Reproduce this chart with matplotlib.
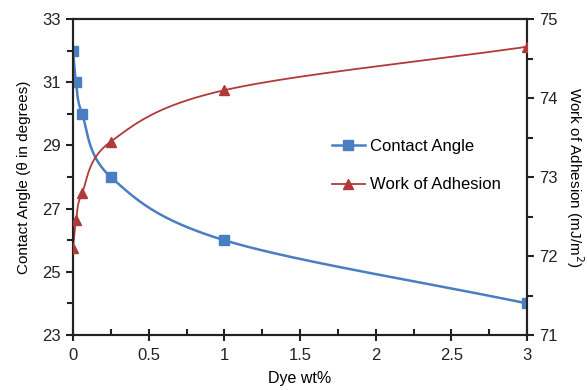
import numpy as np
import matplotlib
matplotlib.use("Agg")
import matplotlib.pyplot as plt
from matplotlib.ticker import MultipleLocator
from matplotlib.lines import Line2D

plt.rcParams['font.family'] = ['Liberation Sans', 'DejaVu Sans']

dye_wt = [0, 0.02, 0.06, 0.25, 1, 3]
contact_angle = [32, 31, 30, 28, 26, 24]
work_adhesion = [72.1, 72.45, 72.8, 73.45, 74.1, 74.65]
x_ticks = [0, 0.5, 1, 1.5, 2, 2.5, 3]
x_tick_labels = ['0', '0.5', '1', '1.5', '2', '2.5', '3']
left_ticks = [23, 25, 27, 29, 31, 33]
right_ticks = [71, 72, 73, 74, 75]

blue = '#4A7EC2'
red = '#B03A3A'


def smooth(x, y, n=60):
    # Catmull-Rom style smoothing for drawing the connecting line
    x = np.asarray(x, float); y = np.asarray(y, float)
    px = np.concatenate([[2*x[0]-x[1]], x, [2*x[-1]-x[-2]]])
    py = np.concatenate([[2*y[0]-y[1]], y, [2*y[-1]-y[-2]]])
    ox, oy = [], []
    for i in range(1, len(px)-2):
        t = np.linspace(0, 1, n)
        for arr, out in ((px, ox), (py, oy)):
            p0, p1, p2, p3 = arr[i-1], arr[i], arr[i+1], arr[i+2]
            m1 = 0.5*(p2-p0); m2 = 0.5*(p3-p1)
            h00 = 2*t**3-3*t**2+1; h10 = t**3-2*t**2+t
            h01 = -2*t**3+3*t**2; h11 = t**3-t**2
            out.extend(h00*p1+h10*m1+h01*p2+h11*m2)
    return np.array(ox), np.array(oy)


fig = plt.figure(figsize=(5.87, 3.9), dpi=100)
ax = fig.add_axes([0.1244, 0.141, 0.7734, 0.81])
ax2 = ax.twinx()

sx, sy = smooth(dye_wt, contact_angle)
ax.plot(sx, sy, color=blue, lw=1.8, zorder=2)
ax.plot(dye_wt, contact_angle, 's', color=blue, ms=7, zorder=3)
sx2, sy2 = smooth(dye_wt, work_adhesion)
ax2.plot(sx2, sy2, color=red, lw=1.3, zorder=2)
ax2.plot(dye_wt, work_adhesion, '^', color=red, ms=7, zorder=3)

ax.set_xlim(0, 3)
ax.set_ylim(23, 33)
ax2.set_ylim(71, 75)
ax.set_xticks(x_ticks)
ax.set_xticklabels(x_tick_labels)
ax.xaxis.set_minor_locator(MultipleLocator(0.25))
ax.set_yticks(left_ticks)
ax.yaxis.set_minor_locator(MultipleLocator(1))
ax2.set_yticks(right_ticks)
ax2.yaxis.set_minor_locator(MultipleLocator(0.5))

for a in (ax, ax2):
    a.tick_params(which='both', direction='out', labelsize=12, width=1.5, colors='#222222')
    a.tick_params(which='major', length=5)
    a.tick_params(which='minor', length=4)
    for s in a.spines.values():
        s.set_linewidth(1.5)
        s.set_color('#222222')
ax.tick_params(axis='x', which='major', direction='inout', length=8, pad=5)
ax.tick_params(axis='x', which='minor', direction='in', length=4)

ax.set_xlabel('Dye wt%', fontsize=11.5, labelpad=6)
ax.set_ylabel('Contact Angle (θ in degrees)', fontsize=11, labelpad=8)
ax2.set_ylabel('Work of Adhesion (mJ/m$^2$)', fontsize=11, rotation=270, labelpad=20)

handles = [Line2D([], [], color=blue, lw=1.8, marker='s', ms=7),
           Line2D([], [], color=red, lw=1.3, marker='^', ms=7)]
ax.legend(handles, ['Contact Angle', 'Work of Adhesion'], loc='upper left',
          bbox_to_anchor=(0.57, 0.62), frameon=False, fontsize=12,
          handlelength=2.0, handletextpad=0.3, labelspacing=1.4,
          borderaxespad=0, borderpad=0)

fig.savefig('out.png', dpi=100)
